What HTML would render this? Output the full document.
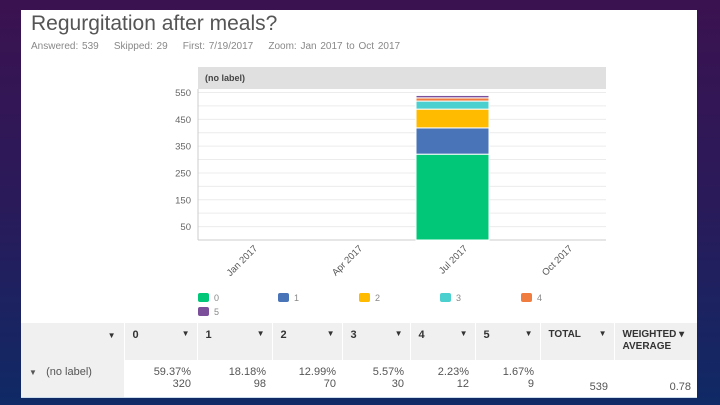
<!DOCTYPE html>
<html><head><meta charset="utf-8"><style>
body{margin:0;width:720px;height:405px;overflow:hidden;background:linear-gradient(180deg,#3b1250 0%,#2a1a5a 50%,#0f2a66 100%);font-family:"Liberation Sans",sans-serif;position:relative}
#panel{position:absolute;left:21px;top:10px;width:676px;height:388px;background:#fff}
.t{position:absolute;white-space:nowrap}
th,td{font-size:11px}
</style></head><body>
<div id="panel"></div>
<div class="t" style="left:31px;top:12px;line-height:24px;font-size:21px;color:#555">Regurgitation after meals?</div>
<div class="t" style="left:31px;top:41px;font-size:10px;color:#888;word-spacing:1px">Answered: 539&nbsp;&nbsp;&nbsp;&nbsp;Skipped: 29&nbsp;&nbsp;&nbsp;&nbsp;First: 7/19/2017&nbsp;&nbsp;&nbsp;&nbsp;Zoom: Jan 2017 to Oct 2017</div>
<svg id="chart" width="720" height="405" style="position:absolute;left:0;top:0"></svg>
<script>
const categories=["Jan 2017","Apr 2017","Jul 2017","Oct 2017"];
const seriesNames=["0","1","2","3","4","5"];
const seriesValues=[320,98,70,30,12,9];
const barCategory="Jul 2017";
const yTicks=[50,150,250,350,450,550];
const colors=["#00c878","#4a74b8","#ffbb00","#4ccfcf","#f07c40","#7b4f9a"];
const NS="http://www.w3.org/2000/svg";
const svg=document.getElementById('chart');
const X0=198,X1=606,Y0=240,YMAXV=550,YTOP=92.5;
const y=v=>Y0-(v/YMAXV)*(Y0-YTOP);
function mk(t,a){const e=document.createElementNS(NS,t);for(const k in a)e.setAttribute(k,a[k]);svg.appendChild(e);return e;}
let hd=mk('rect',{x:X0,y:67,width:X1-X0,height:22,fill:'#e0e0e0'});


let ht=mk('text',{x:205,y:81,'font-size':9,'font-weight':'bold',fill:'#444'});ht.textContent='(no label)';


for(let v=50;v<=550;v+=50){let g=mk('line',{x1:X0,x2:X1,y1:y(v),y2:y(v),stroke:'#ececec'});

}
yTicks.forEach(v=>{let t=mk('text',{x:191,y:y(v)+3.5,'font-size':9.5,fill:'#666','text-anchor':'end'});t.textContent=v;

});
mk('line',{x1:X0,x2:X0,y1:89,y2:Y0,stroke:'#ccc'});
mk('line',{x1:X0,x2:X1,y1:Y0,y2:Y0,stroke:'#ccc'});
const xpos=i=>258+i*105;
categories.forEach((c,i)=>{let t=mk('text',{x:0,y:0,'font-size':9.5,fill:'#555','text-anchor':'end',transform:`translate(${xpos(i)},${Y0+9}) rotate(-45)`});t.textContent=c;

});
const bi=categories.indexOf(barCategory),bw=73;
let cum=0;
seriesValues.forEach((v,i)=>{const r=mk('rect',{x:416+(bi-2)*105,y:y(cum+v),width:bw,height:y(cum)-y(cum+v),fill:colors[i],stroke:'#fff','stroke-width':1});

cum+=v;});
const lx=[198,278,359,440,521,198],ly=[298,298,298,298,298,312];
seriesNames.forEach((n,i)=>{let r=mk('rect',{x:lx[i],y:ly[i]-5,width:11,height:9,rx:2,fill:colors[i]});


let t=mk('text',{x:lx[i]+16,y:ly[i]+3,'font-size':9,fill:'#888'});t.textContent=n;

});
</script>
<table style="position:absolute;left:21px;top:323px;width:676px;border-collapse:collapse;table-layout:fixed;color:#333">
<colgroup><col style="width:103px"><col style="width:73px"><col style="width:75px"><col style="width:70px"><col style="width:68px"><col style="width:65px"><col style="width:65px"><col style="width:74px"><col style="width:83px"></colgroup>
<tr style="height:37px;background:#f0f0f0;font-weight:bold">
<th style="text-align:right;padding-right:8px;font-size:8px;vertical-align:top;padding-top:8px">▼</th>
<th style="border-left:1px solid #fff;text-align:left;padding-left:8px;vertical-align:top;padding-top:6px">0<span style="float:right;padding-right:6px;font-size:8px">▼</span></th>
<th style="border-left:1px solid #fff;text-align:left;padding-left:8px;vertical-align:top;padding-top:6px">1<span style="float:right;padding-right:6px;font-size:8px">▼</span></th>
<th style="border-left:1px solid #fff;text-align:left;padding-left:8px;vertical-align:top;padding-top:6px">2<span style="float:right;padding-right:6px;font-size:8px">▼</span></th>
<th style="border-left:1px solid #fff;text-align:left;padding-left:8px;vertical-align:top;padding-top:6px">3<span style="float:right;padding-right:6px;font-size:8px">▼</span></th>
<th style="border-left:1px solid #fff;text-align:left;padding-left:8px;vertical-align:top;padding-top:6px">4<span style="float:right;padding-right:6px;font-size:8px">▼</span></th>
<th style="border-left:1px solid #fff;text-align:left;padding-left:8px;vertical-align:top;padding-top:6px">5<span style="float:right;padding-right:6px;font-size:8px">▼</span></th>
<th style="border-left:1px solid #fff;text-align:left;padding-left:8px;vertical-align:top;padding-top:6px;font-size:10px">TOTAL<span style="float:right;padding-right:6px;font-size:8px">▼</span></th>
<th style="border-left:1px solid #fff;text-align:left;padding-left:8px;vertical-align:top;padding-top:6px;font-size:10px;line-height:12px">WEIGHTED ▾<br>AVERAGE</th>
</tr>
<tr style="height:37px;color:#555;border-bottom:1px solid #cde">
<td style="background:#f0f0f0;padding-left:8px;vertical-align:top;padding-top:6px"><span style="font-size:8px">▼</span>&nbsp;&nbsp;&nbsp;(no label)</td>
<td style="text-align:right;padding-right:6px;line-height:12px">59.37%<br>320</td>
<td style="text-align:right;padding-right:6px;line-height:12px">18.18%<br>98</td>
<td style="text-align:right;padding-right:6px;line-height:12px">12.99%<br>70</td>
<td style="text-align:right;padding-right:6px;line-height:12px">5.57%<br>30</td>
<td style="text-align:right;padding-right:6px;line-height:12px">2.23%<br>12</td>
<td style="text-align:right;padding-right:6px;line-height:12px">1.67%<br>9</td>
<td style="text-align:right;padding-right:6px;vertical-align:bottom;padding-bottom:4px">539</td>
<td style="text-align:right;padding-right:6px;vertical-align:bottom;padding-bottom:4px">0.78</td>
</tr>
</table>
</body></html>
